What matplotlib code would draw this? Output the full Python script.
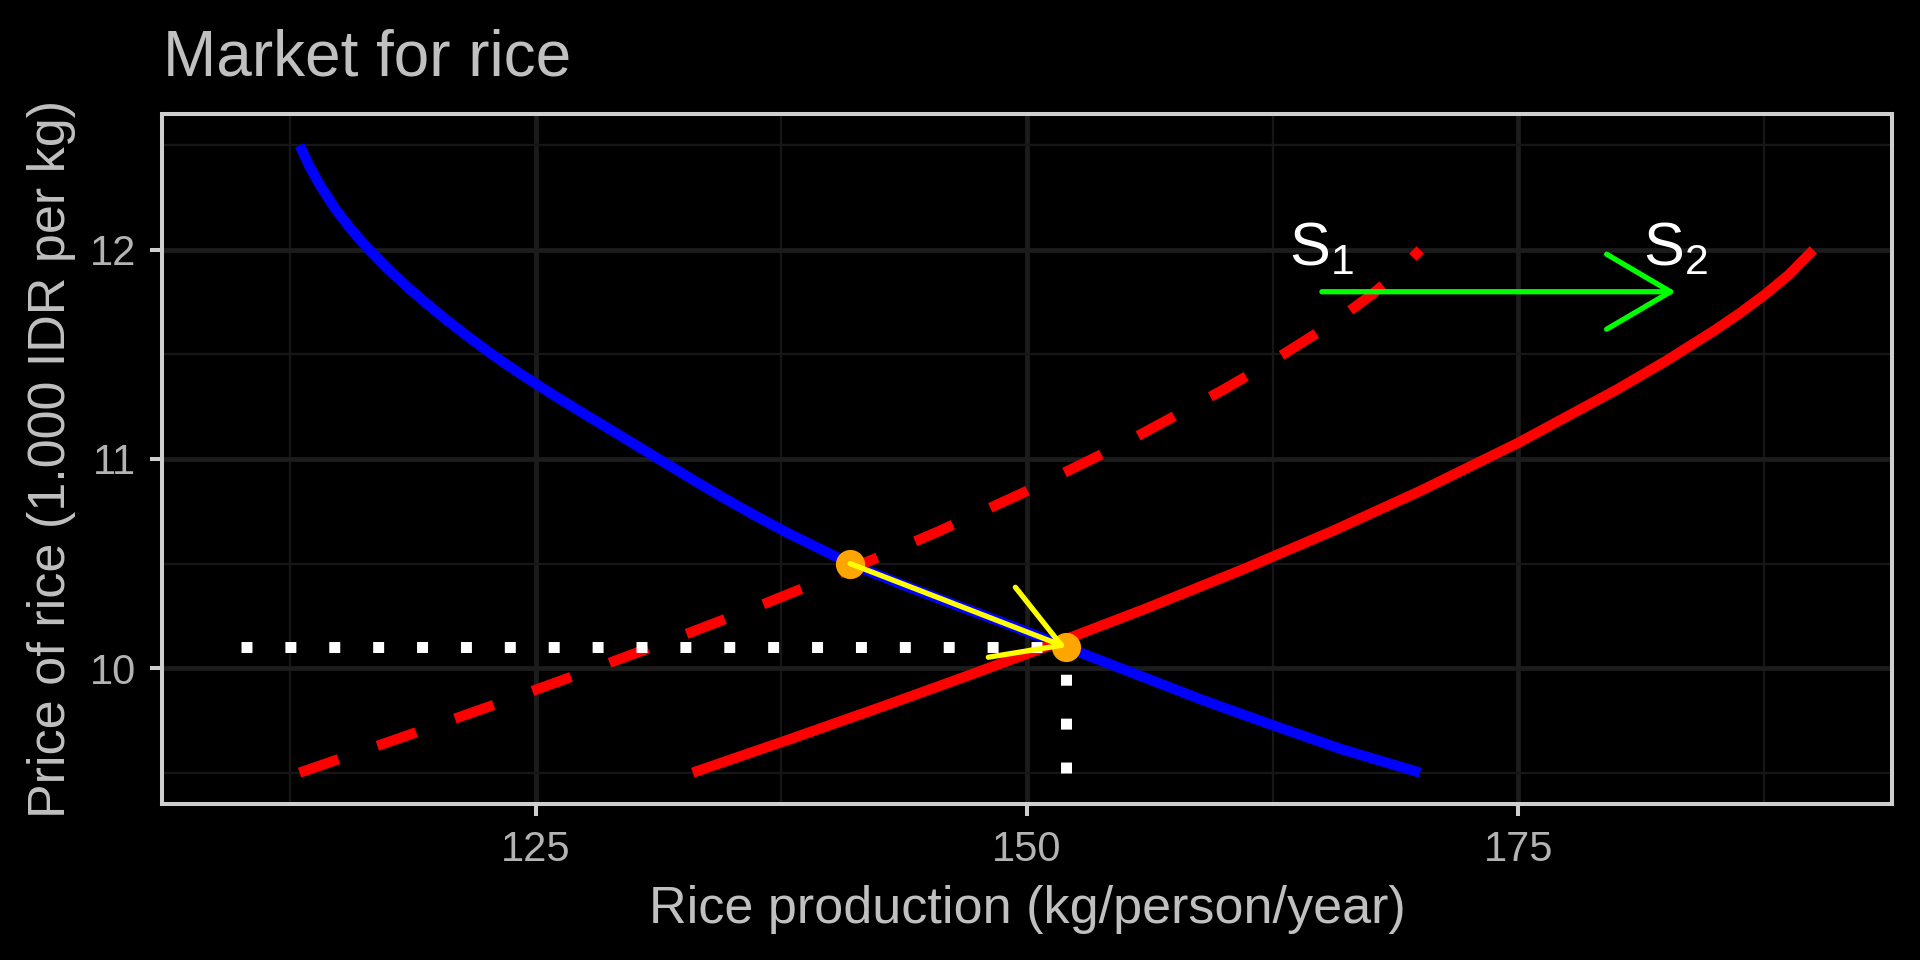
import matplotlib
matplotlib.use('Agg')
import matplotlib.pyplot as plt
from matplotlib.ticker import FixedLocator

plt.rcParams['font.family'] = ['Liberation Sans', 'DejaVu Sans']

# demand curve
demand_q = [113.0, 113.5, 114.0, 114.8, 115.6, 116.5, 117.5, 118.5, 119.5, 120.5,
            121.5, 122.5, 123.4, 124.24, 125.93, 127.63, 129.31, 131.0, 132.7, 134.4,
            136.1, 137.79, 139.48, 141.0, 143.5, 146.0, 149.0, 152.0, 155.7, 159.0,
            162.5, 166.0, 170.0]
demand_p = [12.5, 12.40, 12.315, 12.198, 12.10, 12.004, 11.908, 11.821, 11.74, 11.663,
            11.59, 11.52, 11.46, 11.407, 11.305, 11.207, 11.112, 11.015, 10.918, 10.823,
            10.733, 10.648, 10.570, 10.5, 10.405, 10.315, 10.21, 10.1, 9.965, 9.845,
            9.727, 9.612, 9.5]

# old supply S1 (dashed)
supply1_q = [113.0, 118.0, 123.0, 127.0, 131.0, 136.0, 141.0, 145.5, 150.0, 155.0,
             160.0, 162.5, 165.0, 166.25, 167.5, 168.75, 170.0]
supply1_p = [9.5, 9.662, 9.828, 9.964, 10.103, 10.283, 10.473, 10.654, 10.847, 11.078,
             11.332, 11.469, 11.617, 11.697, 11.784, 11.881, 12.0]

# new supply S2 (solid)
supply2_q = [133.0, 138.0, 143.0, 147.0, 151.0, 156.0, 161.0, 165.5, 170.0, 175.0,
             180.0, 182.5, 185.0, 186.25, 187.5, 188.75, 190.0]
supply2_p = [9.5, 9.662, 9.828, 9.964, 10.103, 10.283, 10.473, 10.654, 10.847, 11.078,
             11.332, 11.469, 11.617, 11.697, 11.784, 11.881, 12.0]

# equilibria
eq_q = [141, 152]
eq_p = [10.5, 10.1]

# guide segments
hseg_q = [110, 152]
hseg_p = [10.1, 10.1]
vseg_q = [152, 152]
vseg_p = [9.5, 10.1]

# shift arrow and labels
shift_from = (165, 11.8)
shift_to = (183, 11.8)
labels = [r'$\mathregular{S_1}$', r'$\mathregular{S_2}$']
label_q = [165, 183]
label_p = [12.0, 12.0]

x_major = [125, 150, 175]
x_minor = [112.5, 137.5, 162.5, 187.5]
y_major = [10, 11, 12]
y_minor = [9.5, 10.5, 11.5, 12.5]

fig = plt.figure(figsize=(19.2, 9.6), dpi=100, facecolor='black')
ax = fig.add_axes([162/1920, 1-804/960, (1892-162)/1920, (804-114)/960])
ax.set_facecolor('black')

ax.plot(demand_q, demand_p, color='#0000ff', lw=7.4, solid_capstyle='butt',
        solid_joinstyle='round', zorder=3)
ax.plot(supply1_q, supply1_p, color='#ff0000', lw=7.4, linestyle=(0, (4, 4)),
        dash_capstyle='butt', zorder=3.1)
ax.plot(supply2_q, supply2_p, color='#ff0000', lw=7.4, solid_capstyle='butt',
        solid_joinstyle='round', zorder=3.2)
ax.plot(hseg_q, hseg_p, color='white', lw=7.9, linestyle=(0, (1, 3)),
        dash_capstyle='butt', zorder=3.3)
ax.plot(vseg_q, vseg_p, color='white', lw=7.9, linestyle=(0, (1, 3)),
        dash_capstyle='butt', zorder=3.3)
ax.plot(eq_q, eq_p, 'o', color='#ffa500', markersize=21, markeredgewidth=0, zorder=4)

astyle = '->,head_length=4.6,head_width=2.7'
ax.annotate('', xy=(eq_q[1], eq_p[1]), xytext=(eq_q[0], eq_p[0]),
            arrowprops=dict(arrowstyle=astyle, color='#ffff00', lw=3.8,
                            shrinkA=0, shrinkB=0, mutation_scale=10), zorder=5)
ax.annotate('', xy=shift_to, xytext=shift_from,
            arrowprops=dict(arrowstyle=astyle, color='#00ff00', lw=3.8,
                            shrinkA=0, shrinkB=0, mutation_scale=10), zorder=5)
for lab, q, p in zip(labels, label_q, label_p):
    ax.text(q, p, lab, color='white', fontsize=44, ha='center', va='center', zorder=6)

ax.set_xlim(106, 194)
ax.set_ylim(9.35, 12.65)
ax.xaxis.set_major_locator(FixedLocator(x_major))
ax.xaxis.set_minor_locator(FixedLocator(x_minor))
ax.yaxis.set_major_locator(FixedLocator(y_major))
ax.yaxis.set_minor_locator(FixedLocator(y_minor))
ax.set_xticklabels([str(v) for v in x_major])
ax.set_yticklabels([str(v) for v in y_major])
ax.grid(which='major', color='#1c1c1c', lw=3.4, zorder=0)
ax.grid(which='minor', color='#161616', lw=1.7, zorder=0)
ax.set_axisbelow(True)
ax.tick_params(which='major', length=8.6, width=2.9, color='#cfcfcf',
               labelcolor='#b3b3b3', labelsize=30, pad=10)
ax.tick_params(which='minor', length=0)
for s in ax.spines.values():
    s.set_color('#cfcfcf')
    s.set_linewidth(2.9)
    s.set_zorder(7)

fig.text(163/1920, 1-75/960, 'Market for rice', color='#c0c0c0', fontsize=46,
         ha='left', va='baseline')
fig.text(1027/1920, 1-923/960, 'Rice production (kg/person/year)', color='#c0c0c0',
         fontsize=37.5, ha='center', va='baseline')
fig.text(52/1920, 1-459/960, 'Price of rice (1.000 IDR per kg)', color='#c0c0c0',
         fontsize=37.5, ha='center', va='center', rotation=90)

fig.savefig('out.png', dpi=100, facecolor='black')
